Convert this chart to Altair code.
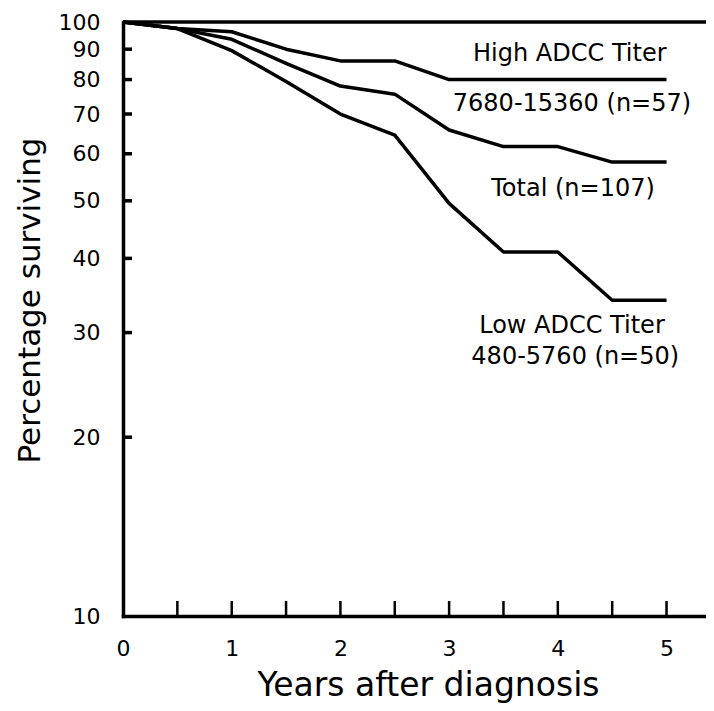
import altair as alt
import pandas as pd

# ---- data ----
years = [0, 0.5, 1, 1.5, 2, 2.5, 3, 3.5, 4, 4.5, 5]
high = [100, 97.5, 96.3, 90, 86, 86, 80, 80, 80, 80, 80]
total = [100, 97.5, 93.5, 85.2, 78, 75.6, 65.8, 61.7, 61.7, 58.1, 58.1]
low = [100, 97.5, 89.5, 79.4, 70, 64.5, 49.5, 41, 41, 34, 34]

y_tick_values = [20, 30, 40, 50, 60, 70, 80, 90]
y_label_values = [10, 20, 30, 40, 50, 60, 70, 80, 90, 100]
x_tick_values = [0.5, 1, 1.5, 2, 2.5, 3, 3.5, 4, 4.5, 5]
x_label_values = [0, 1, 2, 3, 4, 5]

label_texts = ["High ADCC Titer", "7680-15360 (n=57)", "Total (n=107)",
               "Low ADCC Titer", "480-5760 (n=50)"]
label_x = [4.11, 4.13, 4.14, 4.13, 4.16]
label_y = [86.0, 70.8, 50.9, 29.95, 26.6]

W, H = 583, 594
X_MAX = 5.363
FONT = "DejaVu Sans"

rows = []
for name, vals in [("high", high), ("total", total), ("low", low)]:
    for x, v in zip(years, vals):
        rows.append({"year": x, "pct": v, "series": name})
lines_df = pd.DataFrame(rows)

xscale = alt.Scale(domain=[0, X_MAX], nice=False, zero=False)
yscale = alt.Scale(type="log", domain=[10, 100], nice=False)

xaxis = alt.Axis(values=x_label_values, ticks=False, grid=False, format="d",
                 title="Years after diagnosis", labelFontSize=22, labelFont=FONT,
                 labelPadding=22, labelColor="black",
                 titleFont=FONT, titleFontSize=33, titleFontWeight="normal",
                 titleColor="black", titleX=305, titleY=79,
                 titleBaseline="alphabetic", titleAlign="center",
                 domainColor="black", domainWidth=3.5, domainCap="square",
                 labelFlush=False)
yaxis = alt.Axis(values=y_label_values, ticks=False, grid=False, format="d",
                 title="Percentage surviving", labelFontSize=22, labelFont=FONT,
                 labelPadding=23, labelColor="black",
                 titleFont=FONT, titleFontSize=31, titleFontWeight="normal",
                 titleColor="black", titleX=-84, titleY=278,
                 titleBaseline="alphabetic", titleAlign="center", titleAngle=270,
                 domainColor="black", domainWidth=3.5, domainCap="square",
                 labelFlush=False)

X = lambda: alt.X("year:Q", scale=xscale, axis=xaxis)
Y = lambda: alt.Y("pct:Q", scale=yscale, axis=yaxis)

lines = alt.Chart(lines_df).mark_line(
    color="black", strokeWidth=3.5, strokeJoin="round"
).encode(x=X(), y=Y(), detail="series:N")

top_rule = alt.Chart(pd.DataFrame({"pct": [100]})).mark_rule(
    color="black", strokeWidth=3.5
).encode(y=Y(), x=alt.value(0), x2=alt.value(W))

ytick = alt.Chart(pd.DataFrame({"pct": y_tick_values})).mark_rule(
    color="black", strokeWidth=3.5
).encode(y=Y(), x=alt.value(0), x2=alt.value(9))

xtick = alt.Chart(pd.DataFrame({"year": x_tick_values})).mark_rule(
    color="black", strokeWidth=2.5
).encode(x=X(), y=alt.value(H), y2=alt.value(H - 15))

labels = alt.Chart(pd.DataFrame({"label": label_texts, "year": label_x, "pct": label_y})).mark_text(
    font=FONT, fontSize=24, align="center", baseline="alphabetic", color="black"
).encode(x=X(), y=Y(), text="label:N")

chart = alt.layer(lines, top_rule, ytick, xtick, labels).properties(
    width=W, height=H,
    autosize=alt.AutoSizeParams(type="none"),
    padding={"left": 115, "top": 14, "right": 0, "bottom": 87},
    background="white",
).configure_view(stroke=None)

chart.save("out.html", embed_options={"renderer": "svg", "actions": False})
